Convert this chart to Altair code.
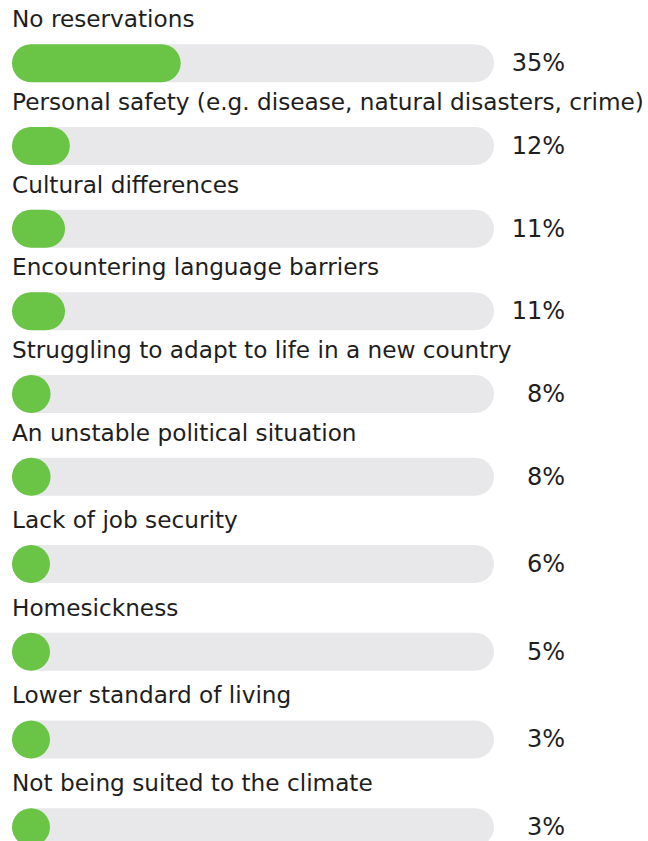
import altair as alt
import pandas as pd

categories = [
    "No reservations",
    "Personal safety (e.g. disease, natural disasters, crime)",
    "Cultural differences",
    "Encountering language barriers",
    "Struggling to adapt to life in a new country",
    "An unstable political situation",
    "Lack of job security",
    "Homesickness",
    "Lower standard of living",
    "Not being suited to the climate",
]
values = [35, 12, 11, 11, 8, 8, 6, 5, 3, 3]

df = pd.DataFrame({"category": categories, "value": values})

FONT = "DejaVu Sans"
GREEN = "#6ac445"
TRACK = "#e8e8ea"
TEXT = "#1e1e1e"
BAR_H = 38
X_RANGE = [12, 494]
MIN_PCT = BAR_H / (X_RANGE[1] - X_RANGE[0]) * 100


def panel(cats, height):
    base = (
        alt.Chart(df)
        .transform_filter(alt.FieldOneOfPredicate(field="category", oneOf=cats))
        .transform_calculate(
            zero="0",
            full="100",
            shown=f"max(datum.value, {MIN_PCT})",
            pct="datum.value + '%'",
        )
    )
    y = alt.Y(
        "category:N",
        sort=cats,
        scale=alt.Scale(paddingInner=0, paddingOuter=0),
        axis=None,
    )
    xs = alt.Scale(domain=[0, 100], range=X_RANGE)
    track = base.mark_bar(cornerRadius=BAR_H / 2, size=BAR_H, color=TRACK).encode(
        y=y, x=alt.X("zero:Q", scale=xs, axis=None), x2="full:Q"
    )
    bar = base.mark_bar(cornerRadius=BAR_H / 2, size=BAR_H, color=GREEN).encode(
        y=y, x=alt.X("zero:Q", scale=xs, axis=None), x2="shown:Q"
    )
    label = base.mark_text(
        align="left", baseline="middle", dy=-43, fontSize=23.2, font=FONT, color=TEXT
    ).encode(y=y, x=alt.value(12), text="category:N")
    pct = base.mark_text(
        align="right", baseline="middle", dy=1, fontSize=24, font=FONT, color=TEXT
    ).encode(y=y, x=alt.value(565), text="pct:N")
    return alt.layer(track, bar, label, pct).properties(width=648, height=height)


top = panel(categories[:6], 496)
bottom = panel(categories[6:], 351)

chart = (
    alt.vconcat(top, bottom, spacing=2, bounds="flush")
    .properties(
        padding={"top": 8, "left": 0, "right": 0, "bottom": 0},
        background="white",
    )
    .configure_view(stroke=None)
)

chart.save("out.html", embed_options={"renderer": "svg", "actions": False})
